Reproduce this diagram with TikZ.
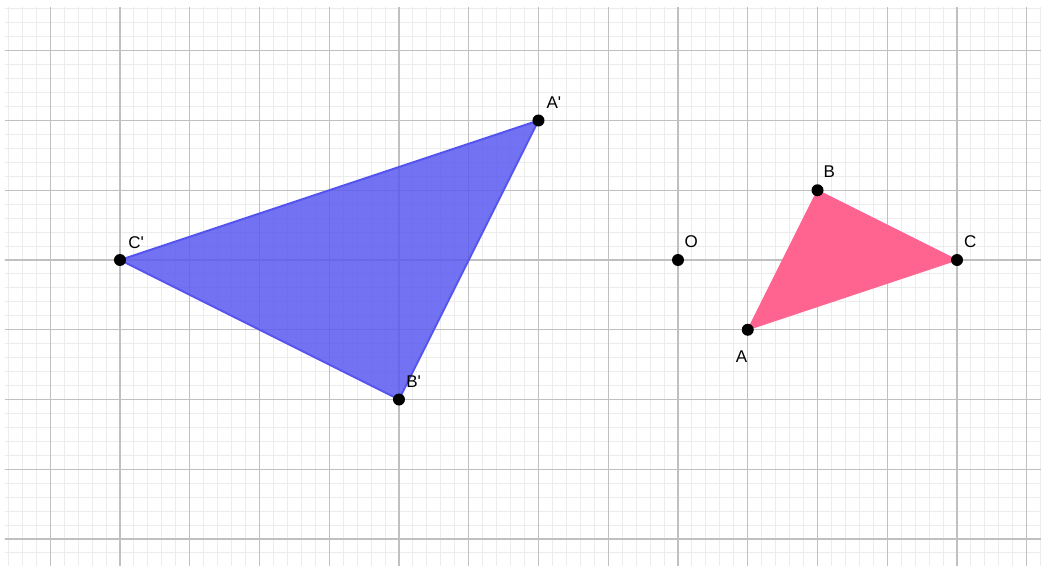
\documentclass[tikz,border=0pt]{standalone}
\usepackage{fontspec}
\setmainfont{Liberation Sans}
\usetikzlibrary{calc}
\definecolor{minorgrid}{RGB}{236,236,236}
\definecolor{majorgrid}{RGB}{192,192,192}
\definecolor{bluefill}{RGB}{90,90,240}
\definecolor{blueline}{RGB}{85,85,238}
\definecolor{pinkfill}{RGB}{255,100,145}
\tikzset{
  pt/.style={circle,fill=black,inner sep=0pt,minimum size=12pt},
  lbl/.style={inner sep=0pt,font=\fontsize{17}{20}\selectfont},
  minorline/.style={minorgrid,line width=1pt},
  majorline/.style={majorgrid,line width=1.1pt},
}
\begin{document}
\begin{tikzpicture}[x=69.75pt,y=69.75pt]
\useasboundingbox[fill=white] ({-678/69.75},{-305/69.75}) rectangle ({363/69.75},{260/69.75});
\begin{scope}
\clip ({-673/69.75},{-305/69.75}) rectangle ({363/69.75},{252/69.75});
\foreach \k in {-10,...,5}{
  \foreach \j in {1,...,4}{
    \draw[minorline] ({\k+\j/5},-5) -- ({\k+\j/5},4);
  }
}
\foreach \k in {-5,...,3}{
  \foreach \j in {1,...,4}{
    \draw[minorline] (-10,{\k+\j/5}) -- (6,{\k+\j/5});
  }
}
\foreach \k in {-10,...,6}{\draw[majorline] (\k,-5) -- (\k,4);}
\foreach \k in {-5,...,4}{\draw[majorline] (-10,\k) -- (6,\k);}
\end{scope}
% points
\coordinate (O) at (0,0);
\coordinate (A) at (1,-1);
\coordinate (B) at (2,1);
\coordinate (C) at (4,0);
\coordinate (A') at (-2,2);
\coordinate (B') at (-4,-2);
\coordinate (C') at (-8,0);
% triangles
\filldraw[fill=bluefill,fill opacity=0.85,draw=blueline,line width=2pt,line join=round] (A') -- (B') -- (C') -- cycle;
\filldraw[fill=pinkfill,draw=pinkfill,line width=1pt,line join=round] (A) -- (B) -- (C) -- cycle;
% dots
\node[pt] (pO) at (O) {};
\node[pt] (pA) at (A) {};
\node[pt] (pB) at (B) {};
\node[pt] (pC) at (C) {};
\node[pt] (pA') at (A') {};
\node[pt] (pB') at (B') {};
\node[pt] (pC') at (C') {};
% labels
\node[lbl] (lO) at ($(O)+(0.19,0.26)$) {O};
\node[lbl] (lB) at ($(B)+(0.17,0.26)$) {B};
\node[lbl] (lC) at ($(C)+(0.19,0.26)$) {C};
\node[lbl] (lA) at ($(A)+(-0.09,-0.38)$) {A};
\node[lbl] (lA') at ($(A')+(0.22,0.26)$) {A\textquotesingle};
\node[lbl] (lB') at ($(B')+(0.21,0.26)$) {B\textquotesingle};
\node[lbl] (lC') at ($(C')+(0.23,0.25)$) {C\textquotesingle};
\end{tikzpicture}
\end{document}
